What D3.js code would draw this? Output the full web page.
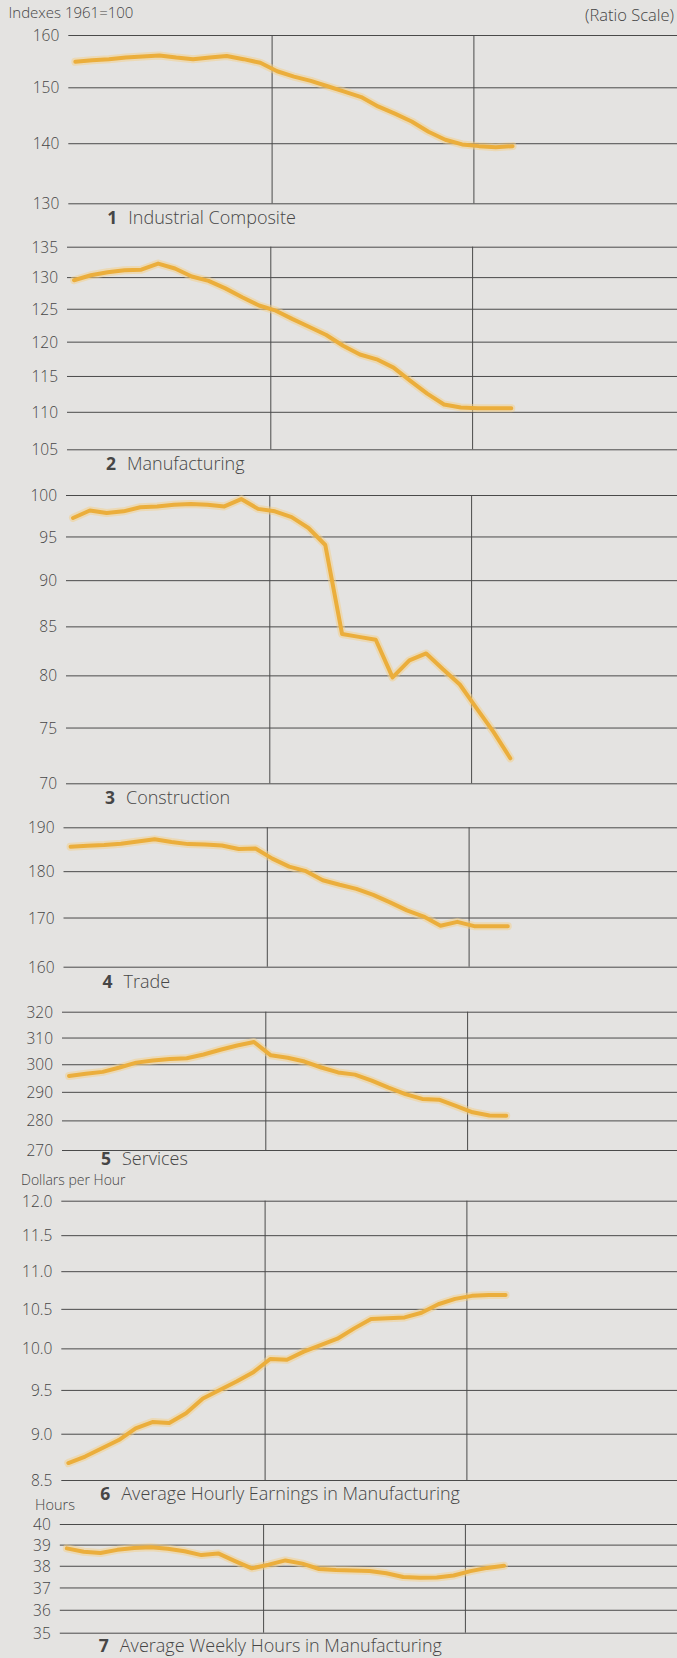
<!DOCTYPE html>
<html><head><meta charset="utf-8">
<script src="https://cdn.jsdelivr.net/npm/d3@7"></script>
<style>
html,body{margin:0;padding:0;background:#e4e3e1;}
svg{display:block;}
text{font-family:"Open Sans","DejaVu Sans",sans-serif;fill:#464646;}
</style></head><body>
<svg id="chart" width="677" height="1658"></svg>
<script>
// ---- data (monthly) ----
const months = ["1981-01","1981-02","1981-03","1981-04","1981-05","1981-06","1981-07","1981-08","1981-09","1981-10","1981-11","1981-12",
                "1982-01","1982-02","1982-03","1982-04","1982-05","1982-06","1982-07","1982-08","1982-09","1982-10","1982-11","1982-12",
                "1983-01","1983-02","1983-03"];
const industrialComposite = [154.8,155.1,155.3,155.6,155.8,156.0,155.6,155.3,155.6,155.9,155.3,154.6,153.0,152.0,151.2,150.2,149.2,148.2,146.5,145.2,143.8,142.0,140.6,139.8,139.5,139.3,139.5];
const manufacturing = [129.5,130.3,130.8,131.1,131.2,132.2,131.4,130.1,129.4,128.2,126.8,125.5,124.7,123.4,122.2,121.0,119.4,118.1,117.4,116.2,114.3,112.5,111.0,110.6,110.5,110.5,110.5];
const construction = [97.2,98.1,97.8,98.0,98.5,98.6,98.8,98.9,98.8,98.6,99.5,98.3,98.0,97.3,96.0,94.0,84.2,83.9,83.6,79.8,81.5,82.2,80.6,79.1,76.8,74.6,72.2];
const trade = [185.5,185.7,185.9,186.2,186.7,187.2,186.6,186.1,186.0,185.8,185.0,185.1,182.8,181.0,180.0,178.0,177.0,176.1,174.8,173.2,171.5,170.2,168.3,169.1,168.2,168.2,168.2];
const services = [295.7,296.5,297.2,298.8,300.6,301.4,301.9,302.2,303.6,305.4,307.0,308.3,303.3,302.4,301.0,298.8,297.0,296.2,294.0,291.5,289.2,287.5,287.2,285.0,282.8,281.7,281.6];
const hourlyEarnings = [8.68,8.75,8.84,8.93,9.06,9.13,9.12,9.23,9.40,9.50,9.60,9.71,9.87,9.86,9.96,10.04,10.12,10.25,10.37,10.38,10.39,10.45,10.56,10.63,10.67,10.68,10.68];
const weeklyHours = [38.82,38.66,38.60,38.75,38.84,38.87,38.80,38.68,38.50,38.58,38.22,37.88,38.05,38.25,38.10,37.85,37.80,37.78,37.76,37.65,37.48,37.44,37.46,37.55,37.75,37.90,38.00];

// ---- tick labels ----
const ticks1 = [130,140,150,160];
const ticks2 = [105,110,115,120,125,130,135];
const ticks3 = [70,75,80,85,90,95,100];
const ticks4 = [160,170,180,190];
const ticks5 = [270,280,290,300,310,320];
const ticks6 = [8.5,9.0,9.5,10.0,10.5,11.0,11.5,12.0];
const ticks7 = [35,36,37,38,39,40];
const yearBreaks = [12, 24];

const titles = ["Industrial Composite","Manufacturing","Construction","Trade","Services",
                "Average Hourly Earnings in Manufacturing","Average Weekly Hours in Manufacturing"];

// ---- layout (positions only) ----
const panels = [
  {series: industrialComposite, ticks: ticks1, fmt: d3.format("d"),   x0: 70.3, yTop: 35,     yBot: 203.3,  lab: 21},
  {series: manufacturing,       ticks: ticks2, fmt: d3.format("d"),   x0: 69.0, yTop: 246.7,  yBot: 449.3,  lab: 21},
  {series: construction,        ticks: ticks3, fmt: d3.format("d"),   x0: 68.0, yTop: 495,    yBot: 783.3,  lab: 21},
  {series: trade,               ticks: ticks4, fmt: d3.format("d"),   x0: 65.5, yTop: 827.3,  yBot: 966.7,  lab: 21},
  {series: services,            ticks: ticks5, fmt: d3.format("d"),   x0: 64.0, yTop: 1011.7, yBot: 1150,   lab: 15},
  {series: hourlyEarnings,      ticks: ticks6, fmt: d3.format(".1f"), x0: 63.3, yTop: 1200.7, yBot: 1480,   lab: 20},
  {series: weeklyHours,         ticks: ticks7, fmt: d3.format("d"),   x0: 61.8, yTop: 1524,   yBot: 1632.7, lab: 19.5}
];
const W = 677, yearW = 201.8, monthOffset = 0.3;

const svg = d3.select("#chart");
const light = sel => sel.style("font-weight", 300);

light(svg.append("text").attr("x", 8.5).attr("y", 18).attr("font-size", 15).text("Indexes 1961=100"));
light(svg.append("text").attr("x", 674).attr("y", 21).attr("font-size", 16.5).attr("text-anchor", "end").text("(Ratio Scale)"));
light(svg.append("text").attr("x", 21).attr("y", 1185.3).attr("font-size", 14).text("Dollars per Hour"));
light(svg.append("text").attr("x", 35).attr("y", 1510).attr("font-size", 14.5).text("Hours"));

panels.forEach((p, k) => {
  const g = svg.append("g");
  const x = d3.scaleLinear().domain([0, 36]).range([p.x0, p.x0 + 3 * yearW]);
  const y = d3.scaleLog().domain([d3.min(p.ticks), d3.max(p.ticks)]).range([p.yBot, p.yTop]);
  const gridLeft = p.x0 - 2;

  const ax = g.append("g").attr("transform", `translate(${gridLeft},0)`)
    .call(d3.axisLeft(y).tickValues(p.ticks).tickFormat(p.fmt)
      .tickSize(-(W - gridLeft)).tickPadding(9));
  ax.select(".domain").remove();
  ax.selectAll(".tick line").attr("stroke", "#4a4a4a").attr("stroke-width", 1);
  ax.selectAll(".tick text").attr("font-size", 15.5).attr("fill", "#464646")
    .attr("font-family", "'Open Sans','DejaVu Sans',sans-serif").style("font-weight", 300).attr("dy", "0.36em");

  g.selectAll("line.v").data(yearBreaks).join("line")
    .attr("x1", d => x(d)).attr("x2", d => x(d))
    .attr("y1", p.yTop).attr("y2", p.yBot)
    .attr("stroke", "#4a4a4a").attr("stroke-width", 1);

  const line = d3.line().x((d, i) => x(i + monthOffset)).y(d => y(d));
  g.append("path").datum(p.series)
    .attr("fill", "none").attr("stroke", "#f3cf87").attr("stroke-width", 8)
    .attr("stroke-linejoin", "round").attr("stroke-linecap", "round").attr("opacity", 0.5)
    .attr("d", line);
  g.append("path").datum(p.series)
    .attr("fill", "none").attr("stroke", "#ebae3c").attr("stroke-width", 4)
    .attr("stroke-linejoin", "round").attr("stroke-linecap", "round")
    .attr("d", line);

  const ly = p.yBot + p.lab;
  g.append("text").attr("x", p.x0 + 37).attr("y", ly).attr("font-size", 17.5)
    .style("font-weight", 700).attr("fill", "#3a3a3a").text(String(k + 1));
  light(g.append("text").attr("x", p.x0 + 58).attr("y", ly).attr("font-size", 18)
    .attr("fill", "#464646").text(titles[k]));
});
</script>
</body></html>
